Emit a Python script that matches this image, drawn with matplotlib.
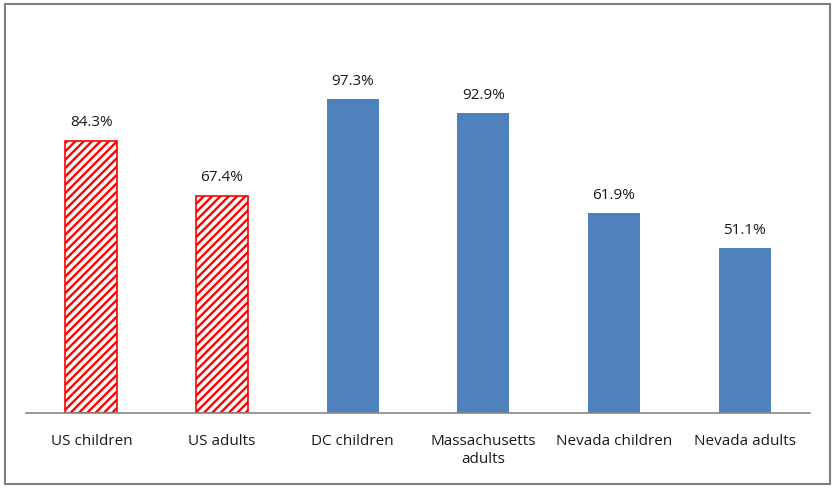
import numpy as np
import matplotlib
matplotlib.use("Agg")
import matplotlib.pyplot as plt
from matplotlib.patches import Rectangle

categories = ["US children", "US adults", "DC children", "Massachusetts\nadults",
              "Nevada children", "Nevada adults"]
values = [84.3, 67.4, 97.3, 92.9, 61.9, 51.1]
hatched = [True, True, False, False, False, False]

plt.rcParams['font.family'] = ['Open Sans', 'DejaVu Sans']
plt.rcParams['hatch.linewidth'] = 1.7
plt.rcParams['hatch.color'] = 'red'

fig = plt.figure(figsize=(8.38, 4.93), dpi=100)
ax = fig.add_axes([26/838, 80/493, 784/838, 387/493])

x = np.arange(len(categories))
for i in range(len(categories)):
    if hatched[i]:
        ax.bar(x[i], values[i], width=0.4, color='white', edgecolor='red',
               hatch='////', linewidth=1.2, zorder=2)
    else:
        ax.bar(x[i], values[i], width=0.4, color='#4F81BD', zorder=2)
    ax.text(x[i], values[i] + 3.3, f"{values[i]:.1f}%", ha='center', va='bottom',
            fontsize=11, color='#1a1a1a')

ax.set_xlim(-0.5, len(categories) - 0.5)
ax.set_ylim(0, 120)
ax.set_xticks(x)
ax.set_xticklabels(categories, fontsize=11, color='#1a1a1a', va='top', linespacing=1.25)
ax.tick_params(axis='x', length=0, pad=15)
ax.set_yticks([])
for s in ['top', 'right', 'left']:
    ax.spines[s].set_visible(False)
ax.spines['bottom'].set_color('#868686')
ax.spines['bottom'].set_linewidth(1.2)

# outer chart border
fig.patches.append(Rectangle((5/838, 9/493), 825/838, 480/493, transform=fig.transFigure,
                             fill=False, edgecolor='#808080', linewidth=1.5))

fig.savefig("out.png", dpi=100)
